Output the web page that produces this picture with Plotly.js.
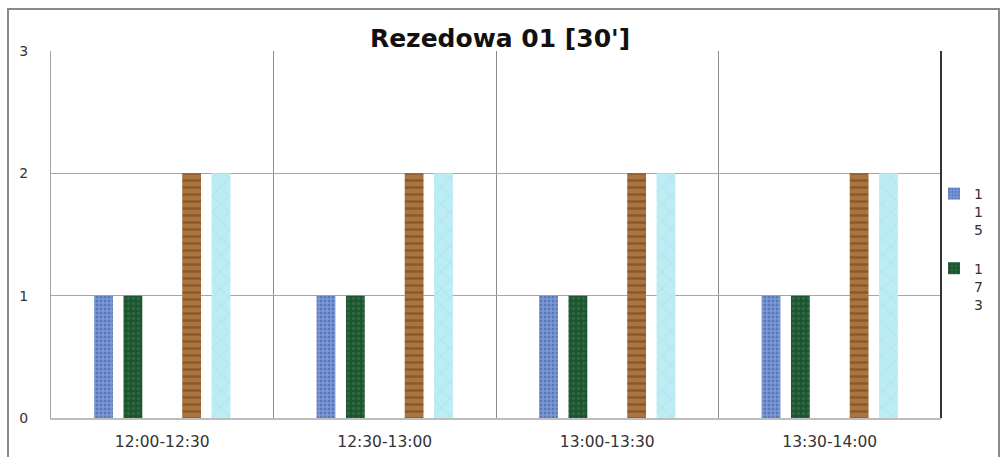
<!DOCTYPE html>
<html>
<head>
<meta charset="utf-8">
<script src="https://cdn.plot.ly/plotly-3.0.1.min.js"></script>
<style>
html,body{margin:0;padding:0;background:#fff;}
#chart{width:1000px;height:457px;}
</style>
</head>
<body>
<div id="chart"></div>
<script>
const categories = ["12:00-12:30", "12:30-13:00", "13:00-13:30", "13:30-14:00"];
const seriesNames = ["1<br>1<br>5", "1<br>7<br>3", "s3", "s4", "s5"];
const s115 = [1, 1, 1, 1];
const s173 = [1, 1, 1, 1];
const s3 = [0, 0, 0, 0];
const s4 = [2, 2, 2, 2];
const s5 = [2, 2, 2, 2];
const yTicks = [0, 1, 2, 3];

const styles = [
  {bg: "#7c9ad6", fg: "#34559f", shape: ".", size: 4, sol: 0.45, legend: true},
  {bg: "#1d5530", fg: "#3f7d50", shape: ".", size: 5, sol: 0.35, legend: true},
  {bg: "#999999", fg: "#777777", shape: "", size: 4, sol: 0.3, legend: false},
  {bg: "#a9743f", fg: "#6a3d18", shape: "-", size: 7, sol: 0.35, legend: false},
  {bg: "#bcecf4", fg: "#93d7e6", shape: "x", size: 12, sol: 0.12, legend: false}
];
const values = [s115, s173, s3, s4, s5];

const traces = values.map((v, i) => ({
  type: "bar",
  x: categories,
  y: v,
  name: seriesNames[i],
  showlegend: styles[i].legend,
  legendgroup: "g" + i,
  marker: {
    color: styles[i].bg,
    line: {width: 0},
    pattern: {shape: styles[i].shape, fgcolor: styles[i].fg, bgcolor: styles[i].bg, size: styles[i].size, solidity: styles[i].sol, fillmode: "overlay"}
  },
  hoverinfo: "x+y"
}));

const L = 51, R = 59, T = 51, B = 39;
const W = 1000, H = 457;
const pw = W - L - R, ph = H - T - B;
const px = x => (x - L) / pw;
const py = y => (H - B - y) / ph;

const layout = {
  width: W, height: H,
  margin: {l: L, r: R, t: T, b: B, pad: 0, autoexpand: false},
  paper_bgcolor: "#ffffff",
  plot_bgcolor: "#ffffff",
  barmode: "group",
  bargap: 0.34,
  bargroupgap: 0.36,
  title: {
    text: "Rezedowa 01 [30']",
    font: {family: "DejaVu Sans", size: 25, color: "#111111", weight: "bold"},
    x: 0.5, xref: "container", xanchor: "center",
    y: 1 - 38 / H, yref: "container", yanchor: "middle"
  },
  xaxis: {
    type: "category",
    tickson: "boundaries",
    showgrid: true,
    gridcolor: "#8c8c8c",
    gridwidth: 1,
    ticks: "",
    showline: true,
    linecolor: "#bdbdbd",
    linewidth: 2,
    tickfont: {family: "DejaVu Sans", size: 15.5, color: "#333333"},
    ticklabelstandoff: 8,
    zeroline: false,
    fixedrange: true
  },
  yaxis: {
    range: [0, 3],
    tickvals: yTicks,
    ticktext: yTicks.map(String),
    showgrid: true,
    gridcolor: "#a6a6a6",
    gridwidth: 1,
    showline: true,
    linecolor: "#a6a6a6",
    linewidth: 1,
    ticks: "",
    zeroline: false,
    tickfont: {family: "DejaVu Sans", size: 14, color: "#333333"},
    ticklabelstandoff: 19,
    fixedrange: true
  },
  legend: {
    x: px(934), xanchor: "left",
    y: py(178), yanchor: "top",
    font: {family: "DejaVu Sans", size: 14, color: "#333333"},
    valign: "top",
    tracegroupgap: 17,
    itemwidth: 30,
    bgcolor: "rgba(0,0,0,0)"
  },
  shapes: [
    {type: "line", xref: "paper", yref: "paper", x0: 1, x1: 1, y0: 0, y1: 1, line: {color: "#333333", width: 2}},
    {type: "rect", xref: "paper", yref: "paper", x0: px(8), x1: px(999), y0: py(9), y1: py(470), line: {color: "#8a8a8a", width: 2}, fillcolor: "rgba(0,0,0,0)", layer: "below"}
  ],
  showlegend: true
};

Plotly.newPlot("chart", traces, layout, {displayModeBar: false, staticPlot: true});
</script>
</body>
</html>
